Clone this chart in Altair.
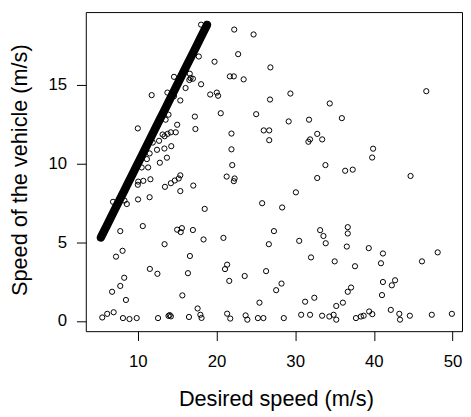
import altair as alt
import pandas as pd

# Free-flow vehicles: speed equals desired speed (dense diagonal band)
free_flow_desired = [5.3, 5.45, 5.6, 5.8, 6.0, 6.25, 6.5, 6.8, 7.1, 7.5, 7.9, 8.3,
                     8.8, 9.3, 9.8, 10.3, 10.9, 11.5, 12.1, 12.7, 13.3, 13.9, 14.5,
                     15.1, 15.7, 16.3, 16.9, 17.5, 18.0, 18.4, 18.8]
free_flow_speed = [5.3, 5.45, 5.6, 5.8, 6.0, 6.25, 6.5, 6.8, 7.1, 7.5, 7.9, 8.3,
                   8.8, 9.3, 9.8, 10.3, 10.9, 11.5, 12.1, 12.7, 13.3, 13.9, 14.5,
                   15.1, 15.7, 16.3, 16.9, 17.5, 18.0, 18.4, 18.8]

desired_speed = [
    14.6, 11.76, 13.76, 15.4, 14.6, 13.9, 13.53, 15.0, 10.0, 14.82,
    14.19, 13.78, 13.15, 13.4, 12.7, 11.9, 14.25, 13.38, 12.44, 11.5,
    13.7, 12.8, 11.15, 11.31, 10.49, 18.04, 17.75, 19.75, 21.7, 22.2,
    16.6, 16.7, 16.55, 17.0, 18.04, 16.07, 19.2, 20.04, 20.2, 20.54,
    17.25, 17.32, 21.9, 21.9, 22.0, 21.29, 22.3, 22.2, 15.4, 15.2,
    14.7, 14.2, 13.45, 17.05, 15.4, 11.6, 10.05, 10.7, 10.0, 11.5,
    10.03, 8.3, 8.6, 6.85, 18.5, 22.25, 24.71, 22.75, 26.85, 23.45,
    26.8, 25.04, 26.0, 26.7, 26.7, 29.39, 34.39, 29.17, 31.76, 35.93,
    32.8, 33.43, 31.89, 31.68, 33.84, 36.35, 37.31, 46.66, 39.9, 39.78,
    7.77, 10.63, 15.0, 15.45, 15.6, 17.0, 13.4, 8.06, 7.23, 11.53,
    12.49, 8.27, 7.77, 6.73, 8.49, 5.48, 6.11, 6.93, 8.11, 8.94,
    9.86, 12.57, 13.9, 14.05, 14.2, 15.66, 16.37, 16.62, 18.35, 20.88,
    21.08, 21.35, 21.62, 16.5, 17.6, 17.95, 18.1, 21.35, 21.75, 23.7,
    23.92, 25.26, 25.96, 25.8, 26.65, 26.3, 23.58, 25.46, 32.8, 30.09,
    28.34, 27.3, 30.51, 33.17, 33.59, 33.88, 36.68, 36.68, 36.56, 32.01,
    35.02, 37.6, 28.26, 27.58, 32.43, 31.26, 37.1, 36.68, 36.06, 35.22,
    28.55, 30.76, 31.89, 33.42, 34.34, 34.88, 35.22, 37.72, 38.35, 44.66,
    39.35, 41.15, 40.9, 48.11, 46.11, 41.15, 42.28, 42.69, 41.03, 38.7,
    39.4, 39.8, 42.15, 43.23, 43.32, 44.57, 47.36, 49.91,
]

vehicle_speed = [
    15.5, 14.34, 14.5, 14.0, 14.27, 13.1, 12.78, 12.46, 12.23, 11.98,
    11.98, 11.88, 11.84, 11.73, 11.44, 11.33, 11.1, 10.95, 10.87, 10.64,
    10.37, 10.05, 10.28, 9.75, 9.75, 18.81, 16.79, 16.46, 15.53, 15.53,
    15.7, 15.42, 15.3, 15.38, 15.03, 14.79, 14.38, 14.5, 14.3, 13.19,
    12.98, 12.19, 11.9, 10.9, 9.9, 9.17, 9.05, 8.88, 9.25, 9.05,
    8.92, 8.75, 8.52, 8.6, 8.25, 9.0, 8.85, 8.9, 8.65, 7.86,
    7.72, 7.65, 7.43, 7.57, 7.12, 18.5, 18.19, 16.94, 16.1, 15.34,
    14.06, 13.13, 12.1, 12.1, 11.48, 14.44, 13.81, 12.67, 12.78, 12.88,
    11.88, 11.53, 11.53, 11.38, 9.9, 9.54, 9.61, 14.59, 10.94, 10.38,
    5.71, 6.03, 5.8, 5.65, 5.9, 5.78, 4.88, 4.46, 4.09, 3.31,
    3.0, 2.75, 2.23, 1.86, 1.34, 0.23, 0.46, 0.56, 0.19, 0.13,
    0.19, 0.19, 0.33, 0.38, 0.3, 1.63, 3.04, 4.13, 5.18, 5.28,
    3.3, 3.58, 2.55, 0.26, 0.8, 0.4, 0.2, 0.47, 0.16, 0.36,
    0.09, 0.19, 0.19, 7.48, 4.88, 3.17, 2.86, 1.17, 9.08, 8.17,
    7.21, 5.71, 5.09, 5.77, 5.4, 4.94, 5.96, 5.56, 4.73, 4.04,
    3.79, 3.48, 2.38, 1.96, 1.48, 1.23, 2.13, 1.86, 1.17, 0.96,
    0.19, 0.4, 0.4, 0.34, 0.29, 0.4, 0.09, 0.19, 0.29, 9.21,
    4.63, 4.29, 3.67, 4.36, 3.79, 2.48, 2.27, 2.59, 1.65, 0.34,
    0.61, 0.44, 0.71, 0.46, 0.09, 0.34, 0.4, 0.46,
]

x_ticks = [10, 20, 30, 40, 50]
y_ticks = [0, 5, 10, 15]

FONT = "Liberation Sans"

free_df = pd.DataFrame({"desired": free_flow_desired, "speed": free_flow_speed})
scatter_df = pd.DataFrame({"desired": desired_speed, "speed": vehicle_speed})

x_enc = alt.X(
    "desired:Q",
    scale=alt.Scale(domain=[3.39, 51.2], nice=False, zero=False),
    axis=alt.Axis(
        values=x_ticks, grid=False, domain=False, tickSize=9.5, tickColor="black",
        tickWidth=1, labelFont=FONT, labelFontSize=17, labelColor="black",
        labelPadding=13, labelFlush=False, labelOverlap=False,
        title="Desired speed (m/s)", titleFont=FONT, titleFontSize=22,
        titleFontWeight="normal", titleColor="black", titleX=193, titleY=75,
        titleBaseline="alphabetic", titleAlign="center",
    ),
)
y_enc = alt.Y(
    "speed:Q",
    scale=alt.Scale(domain=[-0.64, 19.61], nice=False, zero=False),
    axis=alt.Axis(
        values=y_ticks, grid=False, domain=False, tickSize=9.5, tickColor="black",
        tickWidth=1, labelFont=FONT, labelFontSize=17, labelColor="black",
        labelPadding=10, labelAngle=0, labelFlush=False, labelOverlap=False,
        title="Speed of the vehicle (m/s)", titleFont=FONT, titleFontSize=22,
        titleFontWeight="normal", titleColor="black", titleAngle=270,
        titleX=-60, titleY=160, titleBaseline="alphabetic", titleAlign="center",
    ),
)

band = alt.Chart(free_df).mark_line(
    color="black", strokeWidth=8.5, strokeCap="round", strokeJoin="round"
).encode(x=x_enc, y=y_enc, order="desired:Q")

band_pts = alt.Chart(free_df).mark_point(
    shape="circle", filled=False, stroke="black", strokeWidth=1, size=28, opacity=1
).encode(x=x_enc, y=y_enc)

pts = alt.Chart(scatter_df).mark_point(
    shape="circle", filled=False, stroke="black", strokeWidth=1, size=28, opacity=1
).encode(x=x_enc, y=y_enc)

chart = alt.layer(band, band_pts, pts).properties(
    width=382,
    height=324,
    autosize=alt.AutoSizeParams(type="none"),
    padding={"left": 79, "top": 1, "right": 1, "bottom": 83},
    background="white",
).configure_view(stroke="black", strokeWidth=1)

chart.save("out.html", embed_options={"renderer": "svg", "actions": False})
